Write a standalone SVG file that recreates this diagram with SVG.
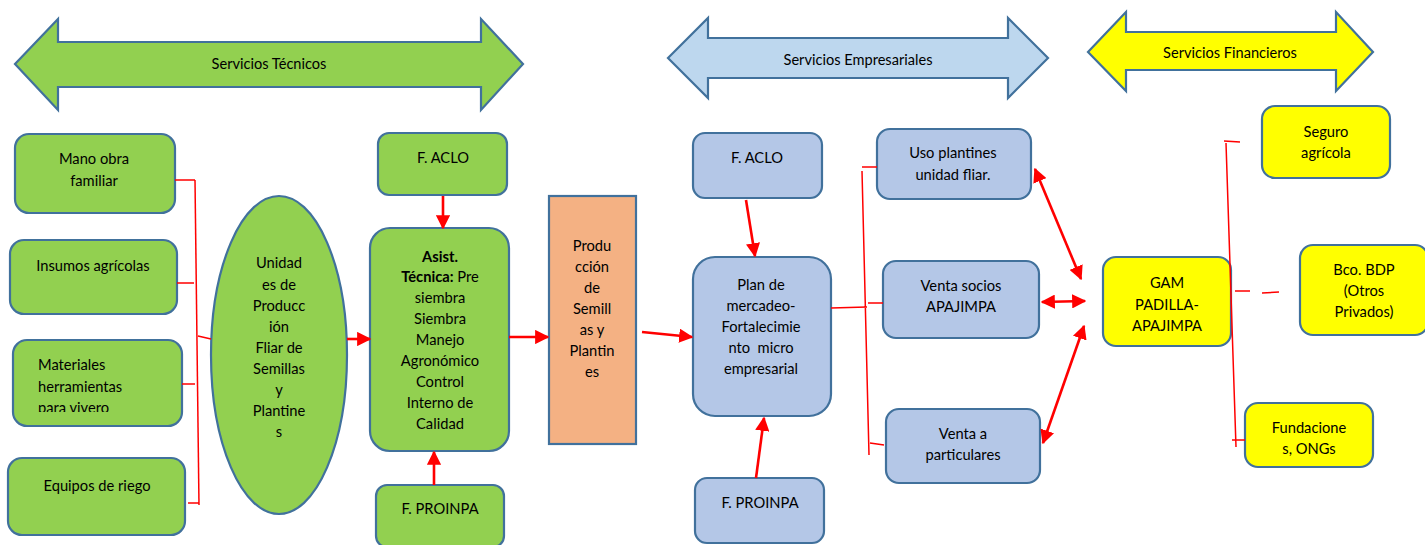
<svg xmlns="http://www.w3.org/2000/svg" width="1425" height="545" viewBox="0 0 1425 545">
<style>
text{font-family:Lato,"Open Sans","Liberation Sans",sans-serif;font-size:14.7px;fill:#000;text-anchor:middle}
.hdr{font-size:14.6px}
.b{font-weight:bold}
.g{fill:#92D050;stroke:#41719C;stroke-width:2.2}
.bl{fill:#B4C7E7;stroke:#41719C;stroke-width:2.2}
.y{fill:#FFFF00;stroke:#41719C;stroke-width:2.2}
.o{fill:#F4B183;stroke:#41719C;stroke-width:2.2}
.ar{fill:none;stroke:#FF0000;stroke-width:2.6}
.ln{fill:none;stroke:#FF0000;stroke-width:1.5}
</style>
<defs>
<marker id="ah" viewBox="0 0 10 10" refX="9" refY="5" markerWidth="5.5" markerHeight="5.5" orient="auto-start-reverse" markerUnits="strokeWidth">
<path d="M0,0 L10,5 L0,10 z" fill="#FF0000"/>
</marker>
<clipPath id="clipMat"><rect x="13" y="340" width="170" height="72"/></clipPath>
</defs>

<g id="hdr-tecnicos">
<polygon class="g" points="15,64 58,19 58,42 481,42 481,19 523,64 481,110 481,87 58,87 58,110"/>
<text class="hdr" x="269" y="69">Servicios Técnicos</text>
</g>
<g id="hdr-empresariales">
<polygon fill="#BDD7EE" stroke="#41719C" stroke-width="2.2" points="668,58 708,18 708,38 1008,38 1008,18 1048,58 1008,98 1008,78 708,78 708,98"/>
<text class="hdr" x="858" y="65">Servicios Empresariales</text>
</g>
<g id="hdr-financieros">
<polygon class="y" points="1088,52 1126,12 1126,32 1336,32 1336,12 1373,52 1336,91 1336,70 1126,70 1126,91"/>
<text class="hdr" x="1230" y="58">Servicios Financieros</text>
</g>

<g id="n-mano">
<rect class="g" x="15" y="134" width="160" height="79" rx="14"/>
<text x="94" y="164">Mano obra</text><text x="94" y="186">familiar</text>
</g>
<g id="n-insumos">
<rect class="g" x="10" y="240" width="167" height="74" rx="14"/>
<text x="93" y="271">Insumos agrícolas</text>
</g>
<g id="n-materiales">
<rect class="g" x="13" y="340" width="169" height="86" rx="14"/>
<g clip-path="url(#clipMat)">
<text x="38" y="370" style="text-anchor:start">Materiales</text>
<text x="38" y="392" style="text-anchor:start">herramientas</text>
<text x="38" y="413" style="text-anchor:start">para vivero</text>
</g>
</g>
<g id="n-equipos">
<rect class="g" x="8" y="458" width="177" height="77" rx="14"/>
<text x="97" y="491">Equipos de riego</text>
</g>

<g id="n-unidades">
<ellipse class="g" cx="279" cy="355" rx="68" ry="159"/>
<text x="279" y="268">Unidad</text>
<text x="279" y="290">es de</text>
<text x="279" y="311">Producc</text>
<text x="279" y="332">ión</text>
<text x="279" y="353">Fliar de</text>
<text x="279" y="374">Semillas</text>
<text x="279" y="395">y</text>
<text x="279" y="416">Plantine</text>
<text x="279" y="437">s</text>
</g>

<g id="n-aclo1">
<rect class="g" x="378" y="133" width="129" height="62" rx="11"/>
<text x="443" y="163">F. ACLO</text>
</g>
<g id="n-asist">
<rect class="g" x="370" y="228" width="139" height="223" rx="20"/>
<text class="b" x="440" y="262">Asist.</text>
<text x="440" y="282"><tspan class="b">Técnica:</tspan> Pre</text>
<text x="440" y="303">siembra</text>
<text x="440" y="324">Siembra</text>
<text x="440" y="345">Manejo</text>
<text x="440" y="366">Agronómico</text>
<text x="440" y="387">Control</text>
<text x="440" y="408">Interno de</text>
<text x="440" y="429">Calidad</text>
</g>
<g id="n-proinpa1">
<rect class="g" x="376" y="485" width="128" height="62" rx="11"/>
<text x="440" y="514">F. PROINPA</text>
</g>
<g id="n-produccion">
<rect class="o" x="549" y="196" width="87" height="248"/>
<text x="592" y="251">Produ</text>
<text x="592" y="272">cción</text>
<text x="592" y="293">de</text>
<text x="592" y="314">Semill</text>
<text x="592" y="335">as y</text>
<text x="592" y="356">Plantin</text>
<text x="592" y="377">es</text>
</g>

<g id="n-aclo2">
<rect class="bl" x="693" y="133" width="129" height="65" rx="12"/>
<text x="757" y="163">F. ACLO</text>
</g>
<g id="n-plan">
<rect class="bl" x="693" y="257" width="138" height="159" rx="22"/>
<text x="761" y="290">Plan de</text>
<text x="761" y="311">mercadeo-</text>
<text x="761" y="332">Fortalecimie</text>
<text x="761" y="353" xml:space="preserve">nto  micro</text>
<text x="761" y="374">empresarial</text>
</g>
<g id="n-proinpa2">
<rect class="bl" x="695" y="478" width="129" height="65" rx="12"/>
<text x="760" y="508">F. PROINPA</text>
</g>
<g id="n-uso">
<rect class="bl" x="877" y="129" width="154" height="70" rx="13"/>
<text x="953" y="158">Uso plantines</text>
<text x="953" y="180">unidad fliar.</text>
</g>
<g id="n-socios">
<rect class="bl" x="883" y="261" width="156" height="77" rx="13"/>
<text x="961" y="291">Venta socios</text>
<text x="961" y="312">APAJIMPA</text>
</g>
<g id="n-particulares">
<rect class="bl" x="886" y="409" width="154" height="74" rx="13"/>
<text x="963" y="439">Venta a</text>
<text x="963" y="460">particulares</text>
</g>

<g id="n-gam">
<rect class="y" x="1103" y="257" width="128" height="89" rx="13"/>
<text x="1167" y="288">GAM</text>
<text x="1167" y="310">PADILLA-</text>
<text x="1167" y="331">APAJIMPA</text>
</g>
<g id="n-seguro">
<rect class="y" x="1262" y="106" width="128" height="72" rx="13"/>
<text x="1326" y="137">Seguro</text>
<text x="1326" y="158">agrícola</text>
</g>
<g id="n-bdp">
<rect class="y" x="1300" y="245" width="128" height="90" rx="13"/>
<text x="1364" y="275">Bco. BDP</text>
<text x="1364" y="296">(Otros</text>
<text x="1364" y="317">Privados)</text>
</g>
<g id="n-fundaciones">
<rect class="y" x="1245" y="403" width="128" height="64" rx="13"/>
<text x="1309" y="433">Fundacione</text>
<text x="1309" y="454">s, ONGs</text>
</g>

<g id="connectors">
<path class="ln" d="M195,180 L199,505"/>
<path class="ln" d="M175,180 L195,180 M177,283 L194,283 M182,384 L195,384 M188,503 L199,503 M198,336 L211,339"/>
<path class="ar" marker-end="url(#ah)" d="M347,339 L370,339"/>
<path class="ar" marker-end="url(#ah)" d="M443,196 L443,228"/>
<path class="ar" marker-end="url(#ah)" d="M434,485 L434,452"/>
<path class="ar" marker-end="url(#ah)" d="M509,337 L548,337"/>
<path class="ar" marker-end="url(#ah)" d="M642,332 L692,337"/>
<path class="ar" marker-end="url(#ah)" d="M746,200 L755,256"/>
<path class="ar" marker-end="url(#ah)" d="M756,478 L764,418"/>
<path class="ln" d="M831,308 L867,307 M868,303 L883,303 M862,171 L869,455 M862,167 L877,167 M870,443 L884,445"/>
<path class="ar" marker-start="url(#ah)" marker-end="url(#ah)" d="M1035,169 L1081,279"/>
<path class="ar" marker-start="url(#ah)" marker-end="url(#ah)" d="M1042,302 L1085,301"/>
<path class="ar" marker-start="url(#ah)" marker-end="url(#ah)" d="M1043,443 L1084,326"/>
<path class="ln" d="M1226,143 L1236,447 M1224,141 L1240,142 M1235,291 L1250,291 M1262,293 L1279,292 M1232,440 L1245,440"/>
</g>
</svg>
